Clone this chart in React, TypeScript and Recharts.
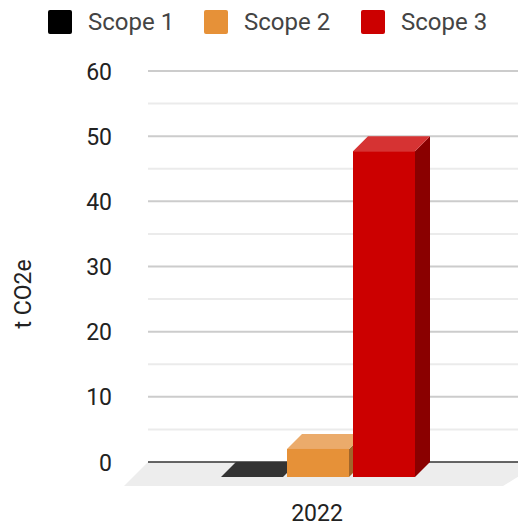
import React from "react";
import { BarChart, Bar, XAxis, YAxis, CartesianGrid, Legend } from "recharts";

const years = ["2022"];
const scope1 = [0];
const scope2 = [4.3];
const scope3 = [50];
const yTicks = [0, 10, 20, 30, 40, 50, 60];
const minorTicks = [5, 15, 25, 35, 45, 55];
const floorLevel = [0];
const seriesNames = ["Scope 1", "Scope 2", "Scope 3"];

const chartData = years.map((year, i) => ({
  year,
  "Scope 1": scope1[i],
  "Scope 2": scope2[i],
  "Scope 3": scope3[i],
}));

const FONT = "Roboto, sans-serif";
const DEPTH = 15;
const colors: Record<string, { front: string; top: string; side: string }> = {
  "Scope 1": { front: "#000000", top: "#333333", side: "#000000" },
  "Scope 2": { front: "#e69138", top: "#ebab6b", side: "#a1662a" },
  "Scope 3": { front: "#cc0000", top: "#d63333", side: "#8a0000" },
};

// google charts style 3d block, the back plane lines up with the value axis
const block = (name: string) => (props: any) => {
  const { x, y, width, height } = props;
  const c = colors[name];
  const d = DEPTH;
  return (
    <g>
      <polygon
        points={`${x + width - d},${y + d} ${x + width},${y} ${x + width},${y + height} ${x + width - d},${y + height + d}`}
        fill={c.side}
      />
      <polygon
        points={`${x - d},${y + d} ${x},${y} ${x + width},${y} ${x + width - d},${y + d}`}
        fill={c.top}
      />
      <rect x={x - d} y={y + d} width={width} height={height} fill={c.front} />
    </g>
  );
};

// floor under the bars, drawn as the grid line at zero so it stays behind them
const floorLine = (props: any) => {
  const { x1, x2, y1 } = props;
  return (
    <g key="floor">
      <polygon
        points={`${x1},${y1} ${x2 + 24},${y1} ${x2 - 15},${y1 + 24} ${x1 - 24},${y1 + 24}`}
        fill="#ededed"
      />
      <line x1={x1} x2={x2} y1={y1} y2={y1} stroke="#333333" strokeWidth={1.5} />
    </g>
  );
};

const LegendRow = () => (
  <div style={{ position: "relative", height: 44, fontFamily: FONT }}>
    {seriesNames.map((name, i) => (
      <div key={name} style={{ position: "absolute", left: [48, 204, 361][i], top: 10, display: "flex", alignItems: "center" }}>
        <span style={{ width: 24, height: 24, borderRadius: 2, background: colors[name].front, display: "block" }} />
        <span style={{ marginLeft: 16, fontSize: 24, lineHeight: "24px", color: "#444444" }}>{name}</span>
      </div>
    ))}
  </div>
);

const YTick = (props: any) => {
  const { x, y, payload } = props;
  return (
    <text x={x - 28} y={y + 8.5} fontFamily={FONT} fontSize={23} fill="#222222" textAnchor="end">
      {payload.value}
    </text>
  );
};

export default function App() {
  return (
    <div style={{ position: "absolute", left: 0, top: 0, width: 518, height: 527 }}>
      <BarChart
        width={518}
        height={527}
        data={chartData}
        margin={{ top: 27, right: 0, bottom: 0, left: 48 }}
        barSize={62}
        barGap={4}
      >
        <CartesianGrid vertical={false} horizontalValues={minorTicks} stroke="#ebebeb" strokeWidth={2} />
        <CartesianGrid vertical={false} horizontalValues={yTicks.slice(1)} stroke="#cccccc" strokeWidth={2} />
        <CartesianGrid vertical={false} horizontalValues={floorLevel} horizontal={floorLine} />
        <Legend verticalAlign="top" content={<LegendRow />} wrapperStyle={{ position: "absolute", top: 0, left: 0, width: 518 }} />
        <XAxis
          dataKey="year"
          height={65}
          axisLine={false}
          tickLine={false}
          tickMargin={37}
          tick={{ fontFamily: FONT, fontSize: 23, fill: "#222222", dx: -16 }}
        />
        <YAxis
          width={100}
          domain={[0, 60]}
          ticks={yTicks}
          axisLine={false}
          tickLine={false}
          tick={<YTick />}
          label={{ value: "t CO2e", angle: -90, position: "insideLeft", dx: -30, dy: 62, style: { fontFamily: FONT, fontSize: 23, fill: "#222222" } }}
        />
        {seriesNames.map((name) => (
          <Bar key={name} dataKey={name} isAnimationActive={false} shape={block(name)} />
        ))}
      </BarChart>
    </div>
  );
}
